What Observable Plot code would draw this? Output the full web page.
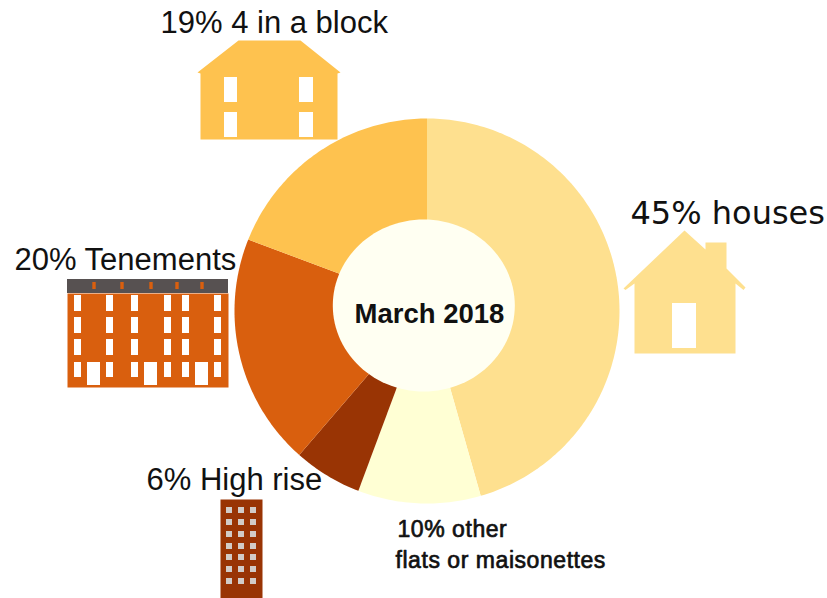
<!DOCTYPE html>
<html><head><meta charset="utf-8">
<style>html,body{margin:0;padding:0;background:#fff}svg{display:block}</style>
<script src="https://cdn.jsdelivr.net/npm/d3@7"></script>
<script src="https://cdn.jsdelivr.net/npm/@observablehq/plot@0.6"></script>
</head><body><div id="chart"></div>
<script>
// Data
const categories = ["houses", "other flats", "high rise", "tenements", "four in a block"];
const shares = [45.5, 10.3, 5.75, 19.5, 18.95];
const colours = ["#fee08f", "#ffffd4", "#993404", "#d95f0e", "#fec24f"];
const centreTitle = ["March 2018"];

// Layout of the pie on the page-sized scales
const cx = 426.5, cy = 310.5, outerR = 192.5, apexY = 306;
const holeX = 423.3, holeY = 305, holeRx = 91, holeRy = 86;

const pie = d3.pie().value((d, i) => shares[i]).sort(null)(categories);
const ringPoints = pie.flatMap(s => {
  const pts = [];
  const n = Math.max(2, Math.ceil((s.endAngle - s.startAngle) * 60));
  for (let i = 0; i <= n; ++i) {
    const a = s.startAngle + (s.endAngle - s.startAngle) * i / n;
    pts.push({cat: s.data, x: cx + outerR * Math.sin(a), y: cy - outerR * Math.cos(a)});
  }
  pts.push({cat: s.data, x: cx, y: apexY});
  return pts;
});
const holePoints = d3.range(0, 361, 3).map(t => ({
  x: holeX + holeRx * Math.cos(t * Math.PI / 180),
  y: holeY + holeRy * Math.sin(t * Math.PI / 180)
}));

// Pictograms (outlines)
const poly = (cat, pts) => pts.map(([x, y]) => ({cat, x, y}));
const houseShape = poly("houses", [[623,288],[684,230],[705,249],[705,242],[726,242],[726,268],[745,287],[743,289.5],[735,283],[735,353],[634,353],[634,283],[625,289.5]]);
const blockShape = poly("four in a block", [[197,72],[238,40],[300,40],[340,72],[337,73],[337,139],[200,139],[200,73]]);
const tenementShape = poly("tenements", [[67,293],[228,293],[228,387],[67,387]]);
const highRiseShape = poly("high rise", [[220,499],[262,499],[262,598],[220,598]]);

const cross = (xs, ys) => xs.flatMap(x => ys.map(y => ({x1: x[0], x2: x[1], y1: y[0], y2: y[1]})));
const holes = [
  {x1:672,x2:696,y1:303,y2:348},
  ...cross([[224,237],[299,313]], [[77,102],[112,137]]),
  ...cross([[74,81],[106,113],[131,138],[164,171],[182,189],[214,221]], [[295,311],[317,333],[339,355],[362,377]]),
  ...cross([[87,100],[144,157],[195,208]], [[362,385]])
];
const roof = [{x1:67,x2:228,y1:279,y2:293}];
const chimneys = [94,122,151,177,202].map(x => ({cat:"tenements",x1:x-1.7,x2:x+1.7,y1:282,y2:289}));
const highRiseWindows = cross([[226,232],[238,244],[250,256]], [510,522,534,546,557,569,581].map(y => [y-3,y+3]));

const tracked = (index, scales, values, dims, ctx, next) => {
  const g = next(index, scales, values, dims, ctx);
  g.style.letterSpacing = "0.55px";
  return g;
};
const big = {textAnchor:"start", fill:"#111", x:"x", y:"y", text:"t"};
const small = {...big, render:tracked, fontFamily:"Liberation Sans", fontSize:23, stroke:"#111", strokeWidth:0.7};
const plot = Plot.plot({
  width: 827, height: 598,
  marginTop: 0, marginRight: 0, marginBottom: 0, marginLeft: 0,
  x: {domain: [0, 827], range: [0, 827], axis: null},
  y: {domain: [0, 598], range: [0, 598], axis: null},
  color: {domain: categories, range: colours},
  marks: [
    Plot.line(ringPoints, {x:"x", y:"y", z:"cat", fill:"cat", stroke:"none"}),
    Plot.line(holePoints, {x:"x", y:"y", fill:"#fffff2", stroke:"none"}),
    Plot.line(houseShape, {x:"x", y:"y", z:"cat", fill:"cat", stroke:"none"}),
    Plot.line(blockShape, {x:"x", y:"y", z:"cat", fill:"cat", stroke:"none"}),
    Plot.line(tenementShape, {x:"x", y:"y", z:"cat", fill:"cat", stroke:"none"}),
    Plot.line(highRiseShape, {x:"x", y:"y", z:"cat", fill:"cat", stroke:"none"}),
    Plot.rect(roof, {x1:"x1", x2:"x2", y1:"y1", y2:"y2", fill:"#575151"}),
    Plot.rect(chimneys, {x1:"x1", x2:"x2", y1:"y1", y2:"y2", fill:"cat"}),
    Plot.rect(holes, {x1:"x1", x2:"x2", y1:"y1", y2:"y2", fill:"#fff"}),
    Plot.rect(highRiseWindows, {x1:"x1", x2:"x2", y1:"y1", y2:"y2", fill:"#d2ccc8"}),
    Plot.text([{x:160,y:23,t:"19% 4 in a block"}], {...big, fontFamily:"Liberation Sans", fontSize:31}),
    Plot.text([{x:14,y:260,t:"20% Tenements"}], {...big, fontFamily:"Liberation Sans", fontSize:31}),
    Plot.text([{x:146,y:480,t:"6% High rise"}], {...big, fontFamily:"Liberation Sans", fontSize:31}),
    Plot.text([{x:630,y:213,t:"45% houses"}], {...big, fontFamily:"DejaVu Sans", fontSize:32}),
    Plot.text(centreTitle, {x:()=>429, y:()=>313.5, text:d=>d, fontFamily:"Liberation Sans", fontWeight:"bold", fontSize:27.5, fill:"#111"}),
    Plot.text([{x:397,y:529.5,t:"10% other"}], small),
    Plot.text([{x:395,y:560,t:"flats or maisonettes"}], small)
  ]
});
document.getElementById("chart").append(plot);
</script></body></html>
